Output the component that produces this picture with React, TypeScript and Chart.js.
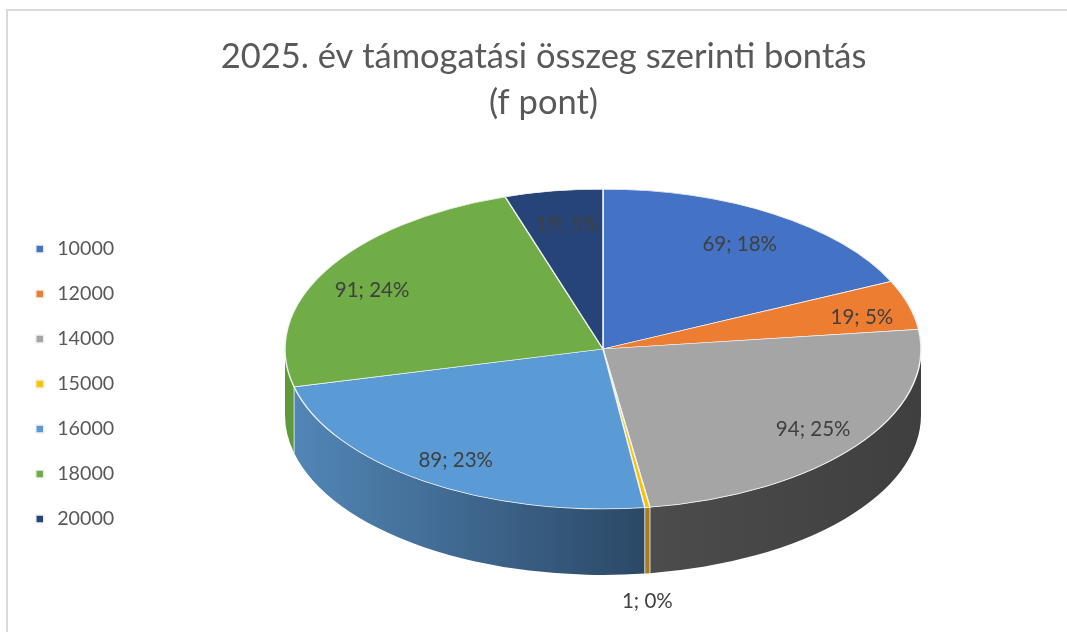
import React, { useEffect, useRef } from "react";
import { Chart, registerables } from "chart.js";

Chart.register(...registerables);

const titleLines = ["2025. év támogatási összeg szerinti bontás", "(f pont)"];
const categories = ["10000", "12000", "14000", "15000", "16000", "18000", "20000"];
const values = [69, 19, 94, 1, 89, 91, 19];
const colors = ["#4472C4", "#ED7D31", "#A5A5A5", "#FFC000", "#5B9BD5", "#70AD47", "#264478"];
const wallStart = ["#3A62A8", "#BA6226", "#4C4C4C", "#A67C1C", "#5286B6", "#5E9A3A", "#1E3660"];
const wallEnd = ["#3A62A8", "#BA6226", "#3F3F3F", "#A67C1C", "#2B4866", "#5E9A3A", "#1E3660"];
const labelReachX = [0.8, 0.847, 0.83, 1, 0.82, 0.832, 0.72];
const labelReachY = [0.78, 0.75, 0.82, 1, 0.84, 0.76, 0.795];

const CX = 603;
const CY = 349;
const SQUASH = 0.503;
const DEPTH = 66;
const RADIUS = 318;
const FONT = "Lato, 'Open Sans', sans-serif";

const pie3d = {
  id: "pie3d",
  beforeDraw(chart: any) {
    const { ctx } = chart;
    ctx.save();
    ctx.fillStyle = "#D9D9D9";
    ctx.fillRect(6, 9, 1074, 2);
    ctx.fillRect(6, 9, 2, 623);
    ctx.restore();
  },
  beforeDatasetDraw(chart: any) {
    const { ctx } = chart;
    const arcs = chart.getDatasetMeta(0).data;
    const first = arcs[0];
    const ry = RADIUS * SQUASH;
    arcs.forEach((arc: any, i: number) => {
      const a0 = Math.max(arc.startAngle, 0);
      const a1 = Math.min(arc.endAngle, Math.PI);
      if (a1 <= a0) return;
      const x0 = CX + Math.cos(a0) * RADIUS;
      const x1 = CX + Math.cos(a1) * RADIUS;
      const g = ctx.createLinearGradient(Math.min(x0, x1), 0, Math.max(x0, x1), 0);
      g.addColorStop(0, wallStart[i]);
      g.addColorStop(1, wallEnd[i]);
      ctx.save();
      ctx.beginPath();
      ctx.ellipse(CX, CY, RADIUS, ry, 0, a0, a1);
      ctx.ellipse(CX, CY + DEPTH, RADIUS, ry, 0, a1, a0, true);
      ctx.closePath();
      ctx.fillStyle = g;
      ctx.fill();
      ctx.strokeStyle = "rgba(255,255,255,0.55)";
      ctx.lineWidth = 1;
      ctx.beginPath();
      [a0, a1].forEach((a) => {
        if (a <= 0 || a >= Math.PI) return;
        const x = CX + Math.cos(a) * RADIUS;
        const y = CY + Math.sin(a) * ry;
        ctx.moveTo(x, y);
        ctx.lineTo(x, y + DEPTH);
      });
      ctx.stroke();
      ctx.restore();
    });
    ctx.save();
    ctx.translate(CX, CY);
    ctx.scale(1, SQUASH);
    ctx.translate(-first.x, -first.y);
  },
  afterDatasetDraw(chart: any) {
    chart.ctx.restore();
  },
  afterDatasetsDraw(chart: any) {
    const { ctx } = chart;
    const arcs = chart.getDatasetMeta(0).data;
    const total = values.reduce((a, b) => a + b, 0);
    ctx.save();
    ctx.font = `20.5px ${FONT}`;
    ctx.fillStyle = "#404040";
    ctx.textAlign = "center";
    ctx.textBaseline = "middle";
    arcs.forEach((arc: any, i: number) => {
      const mid = (arc.startAngle + arc.endAngle) / 2;
      const x = CX + Math.cos(mid) * RADIUS * labelReachX[i];
      let y = CY + 1 + Math.sin(mid) * RADIUS * SQUASH * labelReachY[i];
      if (labelReachY[i] >= 1) y += DEPTH + 27;
      ctx.fillText(`${values[i]}; ${Math.round((values[i] / total) * 100)}%`, x, y);
    });
    ctx.restore();
  },
};

export default function App() {
  const ref = useRef<HTMLCanvasElement>(null);
  useEffect(() => {
    const chart = new Chart(ref.current as HTMLCanvasElement, {
      type: "pie",
      data: {
        labels: categories,
        datasets: [
          {
            data: values,
            backgroundColor: colors,
            borderColor: "#F2F2F2",
            borderWidth: 1.5,
            clip: false,
          } as any,
        ],
      },
      options: {
        animation: false,
        responsive: false,
        events: [],
        radius: RADIUS,
        layout: { padding: { left: 7, top: 34, right: 0, bottom: 0 } },
        plugins: {
          tooltip: { enabled: false },
          title: {
            display: true,
            text: titleLines,
            color: "#595959",
            font: { family: FONT, size: 34.5, weight: "normal", lineHeight: "46px" },
            padding: { top: 0, bottom: 10 },
          },
          legend: {
            position: "left",
            fullSize: false,
            labels: {
              color: "#595959",
              font: { family: FONT, size: 19.7 },
              usePointStyle: true,
              pointStyle: "rect",
              boxWidth: 15,
              boxHeight: 8,
              padding: 25.3,
            },
          },
        },
      } as any,
      plugins: [pie3d],
    });
    return () => chart.destroy();
  }, []);
  return (
    <div style={{ position: "fixed", left: 0, top: 0, width: 1067, height: 632, overflow: "hidden", background: "#fff" }}>
      <canvas ref={ref} width={1080} height={632} style={{ display: "block" }} />
    </div>
  );
}
